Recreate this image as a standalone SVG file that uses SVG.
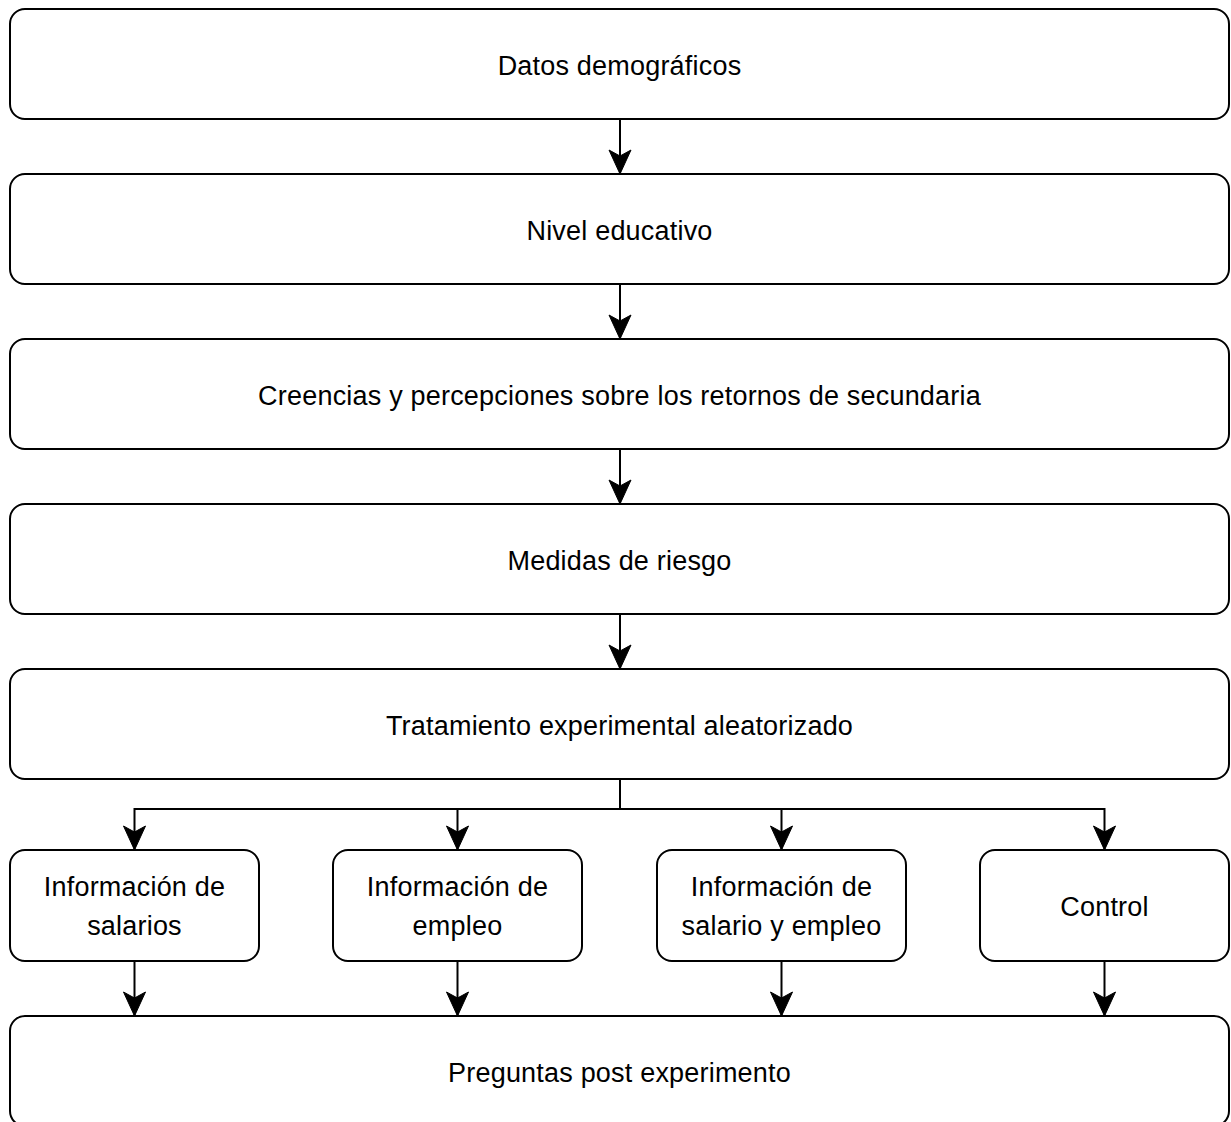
<svg xmlns="http://www.w3.org/2000/svg" width="1231" height="1122" viewBox="0 0 1231 1122">
  <style>
    .box { fill: #ffffff; stroke: #000000; stroke-width: 2; }
    .lbl { font-family: "Liberation Sans", Arial, sans-serif; font-size: 27px; letter-spacing: 0.2px; fill: #000000; text-anchor: middle; }
    .edge { fill: none; stroke: #000000; stroke-width: 2; marker-end: url(#arrow); }
  </style>
  <defs>
    <marker id="arrow" markerUnits="userSpaceOnUse" viewBox="-25 -12 26 24" markerWidth="26" markerHeight="24" refX="0" refY="0" orient="auto">
      <path d="M0,0 L-24,-11 L-18,0 L-24,11 Z" fill="#000000" stroke="#000000" stroke-width="1" stroke-linejoin="miter"/>
    </marker>
  </defs>
  <rect width="1231" height="1122" fill="#ffffff"/>

  <g id="connectors">
    <path class="edge" d="M620,119 V174"/>
    <path class="edge" d="M620,284 V339"/>
    <path class="edge" d="M620,449 V504"/>
    <path class="edge" d="M620,614 V669"/>
    <path class="edge" d="M620,779 V809 H134.5 V850"/>
    <path class="edge" d="M620,779 V809 H457.5 V850"/>
    <path class="edge" d="M620,779 V809 H781.5 V850"/>
    <path class="edge" d="M620,779 V809 H1104.5 V850"/>
    <path class="edge" d="M134.5,961 V1016"/>
    <path class="edge" d="M457.5,961 V1016"/>
    <path class="edge" d="M781.5,961 V1016"/>
    <path class="edge" d="M1104.5,961 V1016"/>
  </g>

  <g id="n1">
    <rect class="box" x="10" y="9" width="1219" height="110" rx="15" ry="15"/>
    <text class="lbl" x="619.5" y="75">Datos demográficos</text>
  </g>
  <g id="n2">
    <rect class="box" x="10" y="174" width="1219" height="110" rx="15" ry="15"/>
    <text class="lbl" x="619.5" y="240">Nivel educativo</text>
  </g>
  <g id="n3">
    <rect class="box" x="10" y="339" width="1219" height="110" rx="15" ry="15"/>
    <text class="lbl" x="619.5" y="405">Creencias y percepciones sobre los retornos de secundaria</text>
  </g>
  <g id="n4">
    <rect class="box" x="10" y="504" width="1219" height="110" rx="15" ry="15"/>
    <text class="lbl" x="619.5" y="570">Medidas de riesgo</text>
  </g>
  <g id="n5">
    <rect class="box" x="10" y="669" width="1219" height="110" rx="15" ry="15"/>
    <text class="lbl" x="619.5" y="735">Tratamiento experimental aleatorizado</text>
  </g>
  <g id="n6">
    <rect class="box" x="10" y="850" width="249" height="111" rx="15" ry="15"/>
    <text class="lbl" x="134.5" y="896">Información de</text>
    <text class="lbl" x="134.5" y="935">salarios</text>
  </g>
  <g id="n7">
    <rect class="box" x="333" y="850" width="249" height="111" rx="15" ry="15"/>
    <text class="lbl" x="457.5" y="896">Información de</text>
    <text class="lbl" x="457.5" y="935">empleo</text>
  </g>
  <g id="n8">
    <rect class="box" x="657" y="850" width="249" height="111" rx="15" ry="15"/>
    <text class="lbl" x="781.5" y="896">Información de</text>
    <text class="lbl" x="781.5" y="935">salario y empleo</text>
  </g>
  <g id="n9">
    <rect class="box" x="980" y="850" width="249" height="111" rx="15" ry="15"/>
    <text class="lbl" x="1104.5" y="916">Control</text>
  </g>
  <g id="n10">
    <rect class="box" x="10" y="1016" width="1219" height="110" rx="15" ry="15"/>
    <text class="lbl" x="619.5" y="1082">Preguntas post experimento</text>
  </g>
</svg>
